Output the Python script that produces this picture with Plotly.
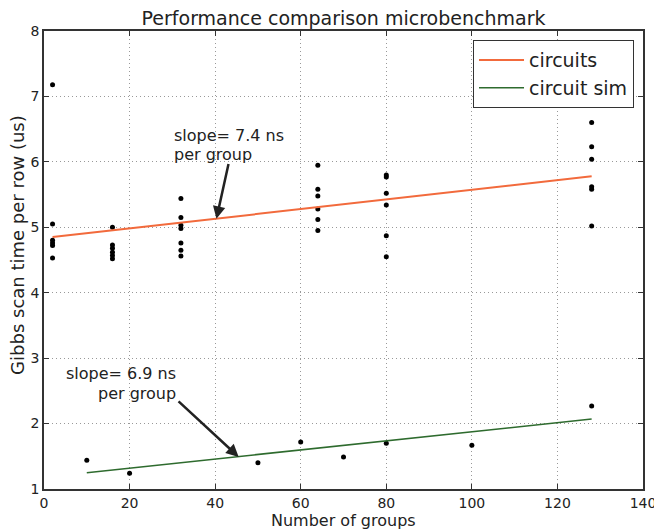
import plotly.graph_objects as go

# circuits measurements
circ_x = [2, 2, 2, 2, 2, 2,
          16, 16, 16, 16, 16, 16,
          32, 32, 32, 32, 32, 32, 32,
          64, 64, 64, 64, 64, 64,
          80, 80, 80, 80, 80, 80,
          128, 128, 128, 128, 128, 128]
circ_y = [7.18, 5.05, 4.80, 4.76, 4.72, 4.53,
          5.00, 4.73, 4.68, 4.62, 4.57, 4.52,
          5.44, 5.15, 5.03, 4.98, 4.76, 4.65, 4.56,
          5.95, 5.58, 5.48, 5.28, 5.12, 4.95,
          5.80, 5.77, 5.52, 5.34, 4.87, 4.55,
          6.60, 6.23, 6.04, 5.62, 5.58, 5.02]

# circuit sim measurements
sim_x = [10, 20, 50, 60, 70, 80, 100, 128]
sim_y = [1.44, 1.24, 1.40, 1.72, 1.49, 1.70, 1.67, 2.27]

# fitted lines
fit_circ_x = [2, 128]
fit_circ_y = [4.85, 5.78]
fit_sim_x = [10, 128]
fit_sim_y = [1.25, 2.07]

x_ticks = [0, 20, 40, 60, 80, 100, 120, 140]
y_ticks = [1, 2, 3, 4, 5, 6, 7, 8]

FONT = "DejaVu Sans"
TXT = "#222"

fig = go.Figure()
fig.add_trace(go.Scatter(x=circ_x, y=circ_y, mode="markers",
                         marker=dict(color="black", size=5), showlegend=False))
fig.add_trace(go.Scatter(x=sim_x, y=sim_y, mode="markers",
                         marker=dict(color="black", size=5), showlegend=False))
fig.add_trace(go.Scatter(x=fit_circ_x, y=fit_circ_y, mode="lines", name="circuits",
                         line=dict(color="#f26a3c", width=2)))
fig.add_trace(go.Scatter(x=fit_sim_x, y=fit_sim_y, mode="lines", name="circuit sim",
                         line=dict(color="#2e6b2e", width=1.5)))

# annotations
fig.add_annotation(x=40.3, y=5.13, ax=43.2, ay=5.99, xref="x", yref="y",
                   axref="x", ayref="y", text="", showarrow=True,
                   arrowhead=2, arrowsize=1, arrowwidth=2.5, arrowcolor="#222")
fig.add_annotation(x=29.9, y=6.40, xref="x", yref="y", text="slope= 7.4 ns",
                   showarrow=False, xanchor="left", yanchor="middle",
                   font=dict(family=FONT, size=16, color=TXT))
fig.add_annotation(x=29.9, y=6.12, xref="x", yref="y", text="per group",
                   showarrow=False, xanchor="left", yanchor="middle",
                   font=dict(family=FONT, size=16, color=TXT))
fig.add_annotation(x=45.5, y=1.49, ax=31.1, ay=2.36, xref="x", yref="y",
                   axref="x", ayref="y", text="", showarrow=True,
                   arrowhead=2, arrowsize=1, arrowwidth=2.5, arrowcolor="#222")
fig.add_annotation(x=31.3, y=2.77, xref="x", yref="y", text="slope= 6.9 ns",
                   showarrow=False, xanchor="right", yanchor="middle",
                   font=dict(family=FONT, size=16, color=TXT))
fig.add_annotation(x=31.3, y=2.46, xref="x", yref="y", text="per group",
                   showarrow=False, xanchor="right", yanchor="middle",
                   font=dict(family=FONT, size=16, color=TXT))

# axis titles
fig.add_annotation(x=0.5, y=-0.068, xref="paper", yref="paper", text="Number of groups",
                   showarrow=False, xanchor="center", yanchor="middle",
                   font=dict(family=FONT, size=16, color=TXT))
fig.add_annotation(x=-0.0434, y=0.533, xref="paper", yref="paper",
                   text="Gibbs scan time per row (us)", textangle=-90,
                   showarrow=False, xanchor="center", yanchor="middle",
                   font=dict(family=FONT, size=18, color=TXT))

axis_common = dict(showline=True, linecolor="#333", linewidth=1.5, mirror="ticks",
                   ticks="inside", ticklen=5, tickcolor="#333",
                   showgrid=True, gridcolor="#999", griddash="1px,3px", gridwidth=1,
                   zeroline=False, automargin=False,
                   tickfont=dict(family=FONT, size=14, color=TXT))

fig.update_xaxes(range=[0, 140], tickvals=x_ticks, **axis_common)
fig.update_yaxes(range=[1, 8], tickvals=y_ticks, **axis_common)

fig.update_layout(
    width=654, height=523,
    margin=dict(l=36, r=19, t=23, b=42, autoexpand=False),
    paper_bgcolor="white", plot_bgcolor="white",
    title=dict(text="Performance comparison microbenchmark", x=0.5, xanchor="center",
               xref="paper", y=0.981, yanchor="middle",
               font=dict(family=FONT, size=19, color=TXT)),
    legend=dict(x=0.985, y=0.98, xanchor="right", yanchor="top",
                bgcolor="white", bordercolor="#333", borderwidth=1,
                font=dict(family=FONT, size=19, color=TXT), itemwidth=45),
    showlegend=True,
)

fig.write_html("out.html")
